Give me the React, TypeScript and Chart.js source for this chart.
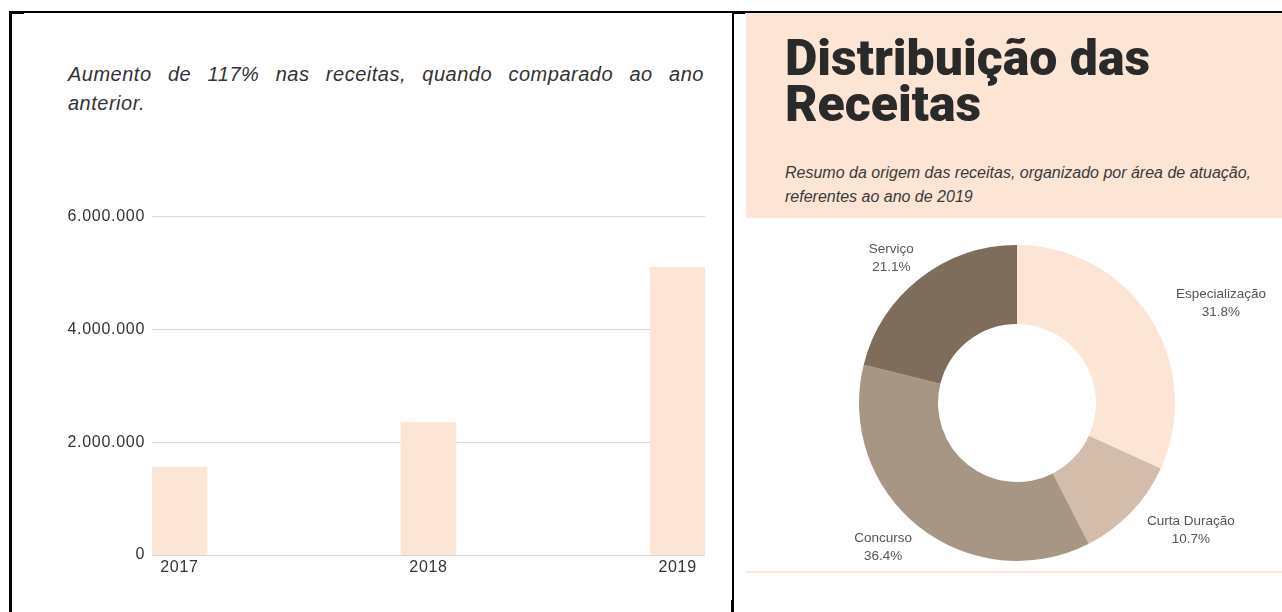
import React, { useEffect, useRef } from "react";
import { Chart, registerables } from "chart.js";

Chart.register(...registerables);

// ---- Data ----
const years = [2017, 2018, 2019];
const revenue = [1560000, 2350000, 5100000];
const yTicks = [0, 2000000, 4000000, 6000000];

const sliceLabels = ["Especialização", "Curta Duração", "Concurso", "Serviço"];
const sliceShares = [31.8, 10.7, 36.4, 21.1];
const sliceColors = ["#fce5d5", "#d3bcaa", "#a89684", "#7f6d5b"];

const PEACH = "#fce5d5";
const SANS = "'Liberation Sans', Arial, sans-serif";

const fmtBR = (v: number) =>
  String(Math.round(v)).replace(/\B(?=(\d{3})+(?!\d))/g, ".");

const spacing = {
  id: "spacing",
  beforeDraw(chart: any) {
    chart.ctx.letterSpacing = "0.7px";
  },
  afterDraw(chart: any) {
    chart.ctx.letterSpacing = "0px";
  },
};

const outsideLabels = {
  id: "outsideLabels",
  afterDatasetsDraw(chart: any) {
    const ctx = chart.ctx;
    const meta = chart.getDatasetMeta(0);
    ctx.save();
    ctx.font = `13.5px ${SANS}`;
    ctx.fillStyle = "#555";
    ctx.textAlign = "center";
    ctx.textBaseline = "middle";
    meta.data.forEach((arc: any, i: number) => {
      const p = arc.getProps(["x", "y", "startAngle", "endAngle", "outerRadius"], true);
      const mid = (p.startAngle + p.endAngle) / 2;
      const dx = Math.cos(mid);
      const dy = Math.sin(mid);
      const l1 = sliceLabels[i];
      const l2 = sliceShares[i].toFixed(1) + "%";
      const w = Math.max(ctx.measureText(l1).width, ctx.measureText(l2).width);
      const r = p.outerRadius + 8;
      const cx = p.x + dx * r + dx * 0.85 * w;
      const cy = p.y + dy * r + dy * 18;
      ctx.fillText(l1, cx, cy - 9);
      ctx.fillText(l2, cx, cy + 9);
    });
    ctx.restore();
  },
};

function BarChart() {
  const ref = useRef<HTMLCanvasElement>(null);
  useEffect(() => {
    const chart = new Chart(ref.current!, {
      type: "bar",
      data: {
        datasets: [
          {
            data: years.map((y, i) => ({ x: y, y: revenue[i] })),
            backgroundColor: PEACH,
            barThickness: 55,
            borderWidth: 0,
          },
        ],
      },
      options: {
        animation: false,
        responsive: false,
        maintainAspectRatio: false,
        layout: { padding: { top: 16, right: 5, left: 0, bottom: 0 } },
        plugins: { legend: { display: false }, tooltip: { enabled: false } },
        scales: {
          x: {
            type: "linear",
            min: 2016.89,
            max: 2019.11,
            offset: false,
            grid: { display: false, drawTicks: false },
            border: { display: false },
            ticks: {
              stepSize: 1,
              includeBounds: false,
              autoSkip: false,
              maxRotation: 0,
              padding: 3,
              color: "#333",
              font: { family: SANS, size: 16 },
              callback: (v: any) => String(v),
            },
            afterFit: (a: any) => {
              a.height = 30;
            },
          },
          y: {
            min: 0,
            max: 6000000,
            afterBuildTicks: (a: any) => {
              a.ticks = yTicks.map((v) => ({ value: v }));
            },
            grid: { color: "#d6d6d6", drawTicks: false, lineWidth: 1 },
            border: { display: false },
            ticks: {
              padding: 7,
              color: "#333",
              font: { family: SANS, size: 16 },
              callback: (v: any) => fmtBR(Number(v)),
            },
            afterFit: (a: any) => {
              a.width = 132;
            },
          },
        },
      } as any,
      plugins: [spacing as any],
    });
    return () => chart.destroy();
  }, []);
  return (
    <canvas
      ref={ref}
      width={690}
      height={385}
      style={{ position: "absolute", left: 20, top: 200, width: 690, height: 385 }}
    />
  );
}

function DoughnutChart() {
  const ref = useRef<HTMLCanvasElement>(null);
  useEffect(() => {
    const chart = new Chart(ref.current!, {
      type: "doughnut",
      data: {
        labels: sliceLabels,
        datasets: [
          {
            data: sliceShares,
            backgroundColor: sliceColors,
            borderWidth: 0,
          },
        ],
      },
      options: {
        animation: false,
        responsive: false,
        maintainAspectRatio: false,
        cutout: "50%",
        layout: { padding: { top: 23, bottom: 11, left: 6, right: 0 } },
        plugins: { legend: { display: false }, tooltip: { enabled: false } },
      } as any,
      plugins: [outsideLabels as any],
    });
    return () => chart.destroy();
  }, []);
  return (
    <canvas
      ref={ref}
      width={536}
      height={350}
      style={{ position: "absolute", left: 746, top: 222, width: 536, height: 350 }}
    />
  );
}

export default function App() {
  const line = (s: React.CSSProperties) => (
    <div style={{ position: "absolute", background: "#000", ...s }} />
  );
  const para: React.CSSProperties = {
    position: "absolute",
    left: 68,
    width: 636,
    fontFamily: SANS,
    fontStyle: "italic",
    fontSize: 20,
    letterSpacing: "0.5px",
    lineHeight: "29px",
    color: "#333",
    whiteSpace: "nowrap",
  };
  return (
    <div
      style={{
        position: "absolute",
        left: 0,
        top: 0,
        width: 1282,
        height: 612,
        overflow: "hidden",
        background: "#fff",
      }}
    >
      {line({ left: 9, top: 11, width: 1273, height: 2 })}
      {line({ left: 9, top: 11, width: 15, height: 3 })}
      {line({ left: 9, top: 11, width: 3, height: 601 })}
      {line({ left: 732, top: 11, width: 2, height: 601 })}
      {line({ left: 732, top: 11, width: 13, height: 3 })}
      {line({ left: 731, top: 600, width: 3, height: 12 })}

      <div style={{ ...para, top: 60, textAlign: "justify", textAlignLast: "justify", whiteSpace: "normal" }}>
        Aumento de 117% nas receitas, quando comparado ao ano
      </div>
      <div style={{ ...para, top: 89 }}>anterior.</div>

      <BarChart />

      <div
        style={{
          position: "absolute",
          left: 746,
          top: 13,
          width: 536,
          height: 205,
          background: PEACH,
        }}
      />
      <div
        style={{
          position: "absolute",
          left: 785,
          top: 35,
          fontFamily: "Roboto, sans-serif",
          fontWeight: 900,
          fontSize: 50,
          lineHeight: "46px",
          color: "#2a2a2a",
          whiteSpace: "nowrap",
        }}
      >
        Distribuição das
        <br />
        Receitas
      </div>
      <div
        style={{
          position: "absolute",
          left: 785,
          top: 161,
          fontFamily: SANS,
          fontStyle: "italic",
          fontSize: 16,
          lineHeight: "24px",
          color: "#3a3a3a",
          whiteSpace: "nowrap",
        }}
      >
        Resumo da origem das receitas, organizado por área de atuação,
        <br />
        referentes ao ano de 2019
      </div>

      <DoughnutChart />
      <div
        style={{
          position: "absolute",
          left: 746,
          top: 571,
          width: 536,
          height: 2,
          background: "#fde9dc",
        }}
      />
    </div>
  );
}
